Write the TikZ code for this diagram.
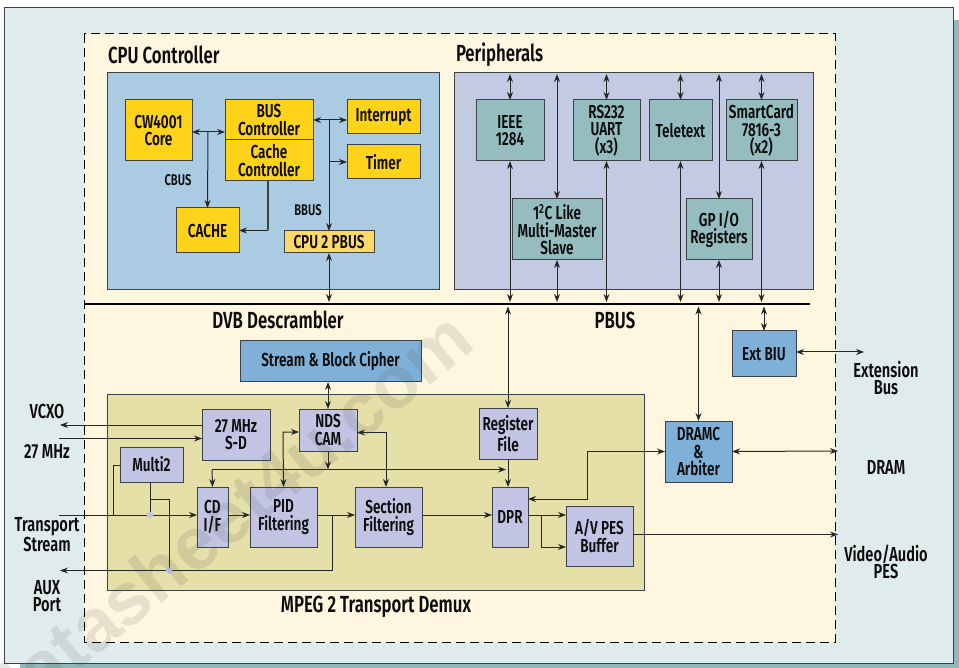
\documentclass[tikz,border=0pt]{standalone}
\usepackage{fontspec}
\setmainfont[FakeStretch=0.72,BoldFont={Fira Sans SemiBold}]{Fira Sans}
\newfontfamily\wmfont{Liberation Sans}
\usetikzlibrary{arrows.meta,calc}
\definecolor{bgout}{HTML}{E0ECEC}
\definecolor{shadowc}{HTML}{8DB9BB}
\definecolor{cream}{HTML}{FFF6E0}
\definecolor{cpuc}{HTML}{ABCBE3}
\definecolor{perc}{HTML}{C2CBE2}
\definecolor{yel}{HTML}{FFD31A}
\definecolor{yellt}{HTML}{FFD966}
\definecolor{tealb}{HTML}{95BDBF}
\definecolor{lilac}{HTML}{C1C5E3}
\definecolor{bluebx}{HTML}{7FB0D8}
\definecolor{demuxc}{HTML}{E5DFA8}
\definecolor{edge}{HTML}{3C4248}
\tikzset{
  every node/.style={font=\fontsize{18.8}{17.5}\selectfont\bfseries,text=black!95,inner sep=0pt,outer sep=0pt,align=center},
  bx/.style={draw=edge,line width=1pt,rectangle},
  ybox/.style={bx,fill=yel},
  tbox/.style={bx,fill=tealb},
  lbox/.style={bx,fill=lilac},
  bbox/.style={bx,fill=bluebx},
  panel/.style={bx,line width=1pt},
  outlab/.style={font=\fontsize{20.3}{17.5}\selectfont\bfseries},
  title/.style={font=\fontsize{23.3}{22}\selectfont\bfseries},
  small/.style={font=\fontsize{15.5}{15}\selectfont\bfseries},
  wire/.style={line width=1pt,draw=black!85},
  both/.style={wire,{Stealth[length=8pt,width=6pt]}-{Stealth[length=8pt,width=6pt]}},
  one/.style={wire,-{Stealth[length=8pt,width=6pt]}},
  dotj/.style={circle,fill=lilac,minimum size=6.5pt},
}
\begin{document}
\begin{tikzpicture}[x=1pt,y=-1pt]
\useasboundingbox (0,0) rectangle (959,668);
\fill[white] (0,0) rectangle (959,668);
\fill[shadowc] (20,20) rectangle (959,668);
\node[draw=edge,line width=1pt,fill=bgout,minimum width=949pt,minimum height=655pt] (outer) at (478.5,335.5) {};
\node[fill=cream,minimum width=751pt,minimum height=608pt] (inner) at (459.5,338) {};
\draw[black,line width=1pt,dash pattern=on 9pt off 5pt] (inner.north west) rectangle (inner.south east);

% panels
\node[panel,fill=cpuc,minimum width=332pt,minimum height=217pt] (cpu) at (273,181.5) {};
\node[panel,fill=perc,minimum width=359pt,minimum height=217pt] (per) at (633.5,181.5) {};
\node[panel,fill=demuxc,minimum width=537pt,minimum height=195pt] (demux) at (375.5,492.5) {};

% CPU controller
\node[ybox,minimum width=67pt,minimum height=61pt] (core) at (158.5,130.5) {CW4001\\Core};
\node[ybox,minimum width=88pt,minimum height=40pt] (busc) at (269,120) {BUS\\Controller};
\node[ybox,minimum width=88pt,minimum height=41pt] (cachec) at (269,160.5) {Cache\\Controller};
\node[ybox,minimum width=73pt,minimum height=34pt] (intr) at (383.5,117) {Interrupt};
\node[ybox,minimum width=73pt,minimum height=34pt] (timer) at (383.5,162) {Timer};
\node[ybox,minimum width=63pt,minimum height=45pt] (cache) at (207.5,230.5) {CACHE};
\node[bx,fill=yellt,minimum width=90pt,minimum height=22pt] (cpb) at (329,242) {CPU 2 PBUS};

% Peripherals
\node[tbox,minimum width=68pt,minimum height=61pt] (ieee) at (510,130.5) {IEEE\\1284};
\node[tbox,minimum width=67pt,minimum height=61pt] (rs) at (606.5,130.5) {RS232\\UART\\(x3)};
\node[tbox,minimum width=63pt,minimum height=61pt] (tele) at (680.5,130.5) {Teletext};
\node[tbox,minimum width=71pt,minimum height=61pt] (smart) at (761.5,130.5) {SmartCard\\7816-3\\(x2)};
\node[tbox,minimum width=90pt,minimum height=61pt] (iic) at (557,229.5) {1\textsuperscript{2}C Like\\Multi-Master\\Slave};
\node[tbox,minimum width=66pt,minimum height=61pt] (gpio) at (719,229.5) {GP I/O\\Registers};

% Lower blocks
\node[bbox,minimum width=181pt,minimum height=41pt] (cipher) at (330.5,361.5) {Stream \& Block Cipher};
\node[bbox,minimum width=64pt,minimum height=46pt] (ext) at (764,354) {Ext BIU};
\node[bbox,minimum width=67pt,minimum height=61pt] (dramc) at (698.5,451.5) {DRAMC\\\&\\Arbiter};
\node[lbox,minimum width=68pt,minimum height=51pt] (sd) at (236,434.5) {27 MHz\\S-D};
\node[lbox,minimum width=58pt,minimum height=42pt] (nds) at (328,430) {NDS\\CAM};
\node[lbox,minimum width=63pt,minimum height=35pt] (multi) at (151.5,464.5) {Multi2};
\node[lbox,minimum width=31pt,minimum height=60pt] (cd) at (212.5,517) {CD\\I/F};
\node[lbox,minimum width=67pt,minimum height=60pt] (pid) at (283.5,517) {PID\\Filtering};
\node[lbox,minimum width=67pt,minimum height=60pt] (sect) at (388.5,517) {Section\\Filtering};
\node[lbox,minimum width=58pt,minimum height=51pt] (reg) at (508,433.5) {Register\\File};
\node[lbox,minimum width=36pt,minimum height=60pt] (dpr) at (510,517) {DPR};
\node[lbox,minimum width=67pt,minimum height=60pt] (av) at (599.5,536) {A/V PES\\Buffer};

% Labels
\node[title,anchor=west] (tcpu) at (108,55) {CPU Controller};
\node[title,anchor=west] (tper) at (456,55) {Peripherals};
\node[title] (tdvb) at (278,320) {DVB Descrambler};
\node[title] (tpbus) at (615,320) {PBUS};
\node[title] (tmpeg) at (376,607) {MPEG 2 Transport Demux};
\node[small] (lcbus) at (178,180) {CBUS};
\node[small] (lbbus) at (308,210) {BBUS};
\node[outlab] (lvcxo) at (47,411) {VCXO};
\node[outlab] (l27) at (47,452) {27 MHz};
\node[outlab] (lts) at (47,535) {Transport\\Stream};
\node[outlab] (laux) at (47,596) {AUX\\Port};
\node[outlab] (lextb) at (886,378) {Extension\\Bus};
\node[outlab] (ldram) at (886,467) {DRAM};
\node[outlab] (lvid) at (886,562) {Video/Audio\\PES};

% PBUS
\coordinate (busL) at (84,304);
\coordinate (busR) at (810,304);
\draw[black,line width=1.3pt] (busL) -- (busR);
\coordinate (busU) at (0,302);
\coordinate (busD) at (0,306.5);
\coordinate (perT) at (0,74);

% CPU wires
\draw[both] (core.east |- 0,132) -- (busc.west |- 0,132);
\coordinate (cj) at (208,132);
\draw[one] (cj) -- (cache.north);
\coordinate (cc) at (268,230.5);
\draw[wire,edge,line width=1.3pt] (cachec.south -| cc) -- (cc);
\draw[one] (cc) -- (cache.east);
\draw[both] (busc.east) -- (intr.west |- busc.east);
\coordinate (bj) at (329,120);
\draw[one] (bj) -- (cpb.north);
\draw[one] (bj |- timer.west) -- (timer.west);
\draw[both] (cpb.south) -- (cpb.south |- busU);

% Peripherals wires
\foreach \n in {ieee,rs,tele,smart}{
  \draw[both] (\n.north |- perT) -- (\n.north);
}
\foreach \n in {ieee,rs,tele,smart,iic,gpio}{
  \draw[both] (\n.south) -- (\n.south |- busU);
}
\draw[both] (iic.north |- perT) -- (iic.north);
\draw[both] (gpio.north |- perT) -- (gpio.north);

% below the bus
\draw[both] (reg.north) -- (reg.north |- busD);
\draw[both] (dramc.north) -- (dramc.north |- busD);
\draw[both] (ext.north) -- (ext.north |- busD);

% External
\coordinate (extE) at (864,352);
\draw[both] (ext.east |- extE) -- (extE);
\coordinate (dramE) at (838,451);
\draw[both] (dramc.east) -- (dramE);
\coordinate (vidE) at (838,534.5);
\draw[one] (av.east |- vidE) -- (vidE);
\coordinate (vcxoE) at (60,425);
\draw[one] (sd.west |- vcxoE) -- (vcxoE);
\coordinate (m27) at (59,438.5);
\draw[one] (m27) -- (sd.west |- m27);

% Transport stream
\coordinate (tsS) at (59,515);
\draw[one] (tsS) -- (cd.west |- tsS);
\coordinate (mw) at (113,465);
\coordinate (mwd) at (113,515);
\draw[wire] (multi.west |- mw) -- (mw) -- (mwd);
\coordinate (msd) at (150,515);
\draw[wire] (multi.south -| msd) -- (msd);
\coordinate (mbr) at (150,499);
\coordinate (mbc) at (169,499);
\coordinate (auxd) at (169,570.5);
\draw[wire] (mbr) -- (mbc) -- (auxd);
\coordinate (pidT) at (332,515);
\coordinate (auxT) at (332,570.5);
\coordinate (auxE) at (60,570.5);
\draw[wire] (pidT) -- (auxT);
\draw[one] (auxT) -- (auxE);
\node[dotj] (d1) at (msd) {};
\node[dotj] (d2) at (auxd) {};
\draw[one] (cd.east |- tsS) -- (pid.west |- tsS);
\draw[one] (pid.east |- tsS) -- (sect.west |- tsS);
\draw[one] (sect.east |- tsS) -- (dpr.west |- tsS);
\draw[one] (dpr.east |- tsS) -- (av.west |- tsS);
\coordinate (dj) at (541,515);
\coordinate (dj2) at (541,547);
\draw[wire] (dj) -- (dj2);
\draw[one] (dj2) -- (av.west |- dj2);

% CAM wires
\draw[both] (cipher.south -| nds.north) -- (nds.north);
\coordinate (ndsW) at (283,432);
\draw[both] (nds.west |- ndsW) -- (ndsW) -- (pid.north);
\coordinate (ndsE) at (386,432.5);
\draw[both] (nds.east |- ndsE) -- (ndsE) -- (ndsE |- sect.north);
\coordinate (hb) at (329,469.5);
\draw[one] (nds.south) -- (nds.south |- hb);
\coordinate (hbL) at (212,469.5);
\coordinate (hbR) at (506,469.5);
\draw[one] (hbL) -- (hbR);
\draw[one] (hbL) -- (cd.north);
\draw[one] (reg.south) -- (reg.south |- dpr.north);
\coordinate (dprE) at (587,499);
\coordinate (dramW) at (587,451.5);
\draw[both] (dpr.east |- dprE) -- (dprE) -- (dramW) -- (dramc.west |- dramW);

% Watermark
\node[font=\wmfont\fontsize{74}{74}\selectfont\bfseries,text=black!70,opacity=0.13,rotate=39] (wm) at (226,517) {datasheet4u.com};
\end{tikzpicture}
\end{document}
